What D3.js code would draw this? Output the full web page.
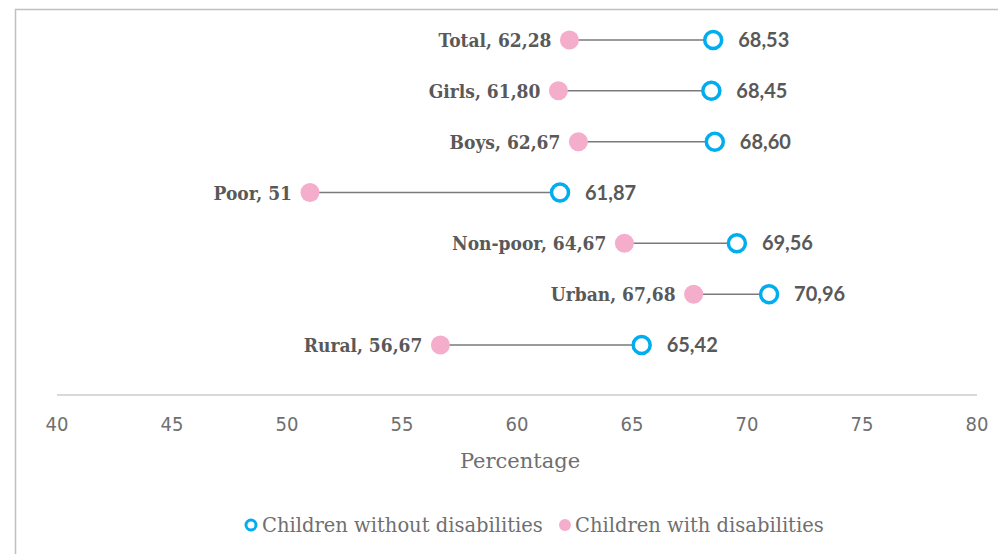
<!DOCTYPE html>
<html>
<head>
<meta charset="utf-8">
<script src="https://cdn.jsdelivr.net/npm/d3@7/dist/d3.min.js"></script>
<style>
  html, body { margin: 0; padding: 0; background: #fff; }
  svg { display: block; }
</style>
</head>
<body>
<svg id="chart" width="998" height="554"></svg>
<script>
var categories = ['Total', 'Girls', 'Boys', 'Poor', 'Non-poor', 'Urban', 'Rural'];
var catLabels = ['Total, 62,28', 'Girls, 61,80', 'Boys, 62,67', 'Poor, 51', 'Non-poor, 64,67', 'Urban, 67,68', 'Rural, 56,67'];
var withDisab = [62.28, 61.80, 62.67, 51, 64.67, 67.68, 56.67];
var withoutDisab = [68.53, 68.45, 68.60, 61.87, 69.56, 70.96, 65.42];
var withoutLabels = ['68,53', '68,45', '68,60', '61,87', '69,56', '70,96', '65,42'];
var xTicks = [40, 45, 50, 55, 60, 65, 70, 75, 80];

var PINK = '#f4adcb';
var BLUE = '#00aeef';
var TEXT = '#595959';

var svg = d3.select('#chart');

// frame around the plot area
svg.append('path')
  .attr('d', 'M15.5,554 L15.5,9.5 L998,9.5')
  .attr('fill', 'none')
  .attr('stroke', '#c0c0c0')
  .attr('stroke-width', 1.5);

var x = d3.scaleLinear().domain([40, 80]).range([57, 977]);
var y = d3.scalePoint().domain(categories).range([40, 345]);

// axis line + tick labels
svg.append('line')
  .attr('x1', x(40)).attr('x2', x(80))
  .attr('y1', 395).attr('y2', 395)
  .attr('stroke', '#d9d9d9')
  .attr('stroke-width', 2);

svg.selectAll('.tick')
  .data(xTicks)
  .enter().append('text')
  .attr('class', 'tick')
  .attr('x', (d) => x(d))
  .attr('y', 431)
  .attr('text-anchor', 'middle')
  .style('font-family', '"Liberation Sans Narrow", "DejaVu Sans Condensed", sans-serif')
  .style('font-size', '20px')
  .style('fill', '#6f6f6f')
  .text((d) => d);

svg.append('text')
  .attr('x', 520)
  .attr('y', 468)
  .attr('text-anchor', 'middle')
  .style('font-family', '"DejaVu Serif", serif')
  .style('font-size', '21px')
  .style('fill', '#6f6f6f')
  .text('Percentage');

var rows = categories.map((c, i) => ({
  cat: c, label: catLabels[i], a: withDisab[i], b: withoutDisab[i], bl: withoutLabels[i]
}));

var g = svg.append('g');

g.selectAll('.conn')
  .data(rows)
  .enter().append('line')
  .attr('x1', (d) => x(d.a))
  .attr('x2', (d) => x(d.b))
  .attr('y1', (d) => y(d.cat))
  .attr('y2', (d) => y(d.cat))
  .attr('stroke', '#7a7a7a')
  .attr('stroke-width', 1.5);

g.selectAll('.dotA')
  .data(rows)
  .enter().append('circle')
  .attr('cx', (d) => x(d.a))
  .attr('cy', (d) => y(d.cat))
  .attr('r', 9.5)
  .attr('fill', PINK);

g.selectAll('.dotB')
  .data(rows)
  .enter().append('circle')
  .attr('cx', (d) => x(d.b))
  .attr('cy', (d) => y(d.cat))
  .attr('r', 8.5)
  .attr('fill', '#fff')
  .attr('stroke', BLUE)
  .attr('stroke-width', 3.5);

g.selectAll('.labA')
  .data(rows)
  .enter().append('text')
  .attr('x', (d) => x(d.a) - 18)
  .attr('y', (d) => y(d.cat) + 7)
  .attr('text-anchor', 'end')
  .style('font-family', '"DejaVu Serif Condensed", "DejaVu Serif", serif')
  .style('font-weight', 'bold')
  .style('font-size', '19px')
  .style('fill', TEXT)
  .text((d) => d.label);

g.selectAll('.labB')
  .data(rows)
  .enter().append('text')
  .attr('x', (d) => x(d.b) + 25)
  .attr('y', (d) => y(d.cat) + 7)
  .style('font-family', 'Lato, "Open Sans", sans-serif')
  .style('font-weight', 'bold')
  .style('font-size', '20px')
  .style('fill', TEXT)
  .text((d) => d.bl);

// legend
var legend = svg.append('g').attr('transform', 'translate(0,525)');
legend.append('circle')
  .attr('cx', 251).attr('cy', 0).attr('r', 5)
  .attr('fill', '#fff').attr('stroke', BLUE).attr('stroke-width', 3);
legend.append('text')
  .attr('x', 262).attr('y', 7)
  .style('font-family', '"DejaVu Serif", serif')
  .style('font-size', '19.5px')
  .style('fill', '#6f6f6f')
  .text('Children without disabilities');
legend.append('circle')
  .attr('cx', 565).attr('cy', 0).attr('r', 6)
  .attr('fill', PINK);
legend.append('text')
  .attr('x', 575).attr('y', 7)
  .style('font-family', '"DejaVu Serif", serif')
  .style('font-size', '19.5px')
  .style('fill', '#6f6f6f')
  .text('Children with disabilities');
</script>
</body>
</html>
